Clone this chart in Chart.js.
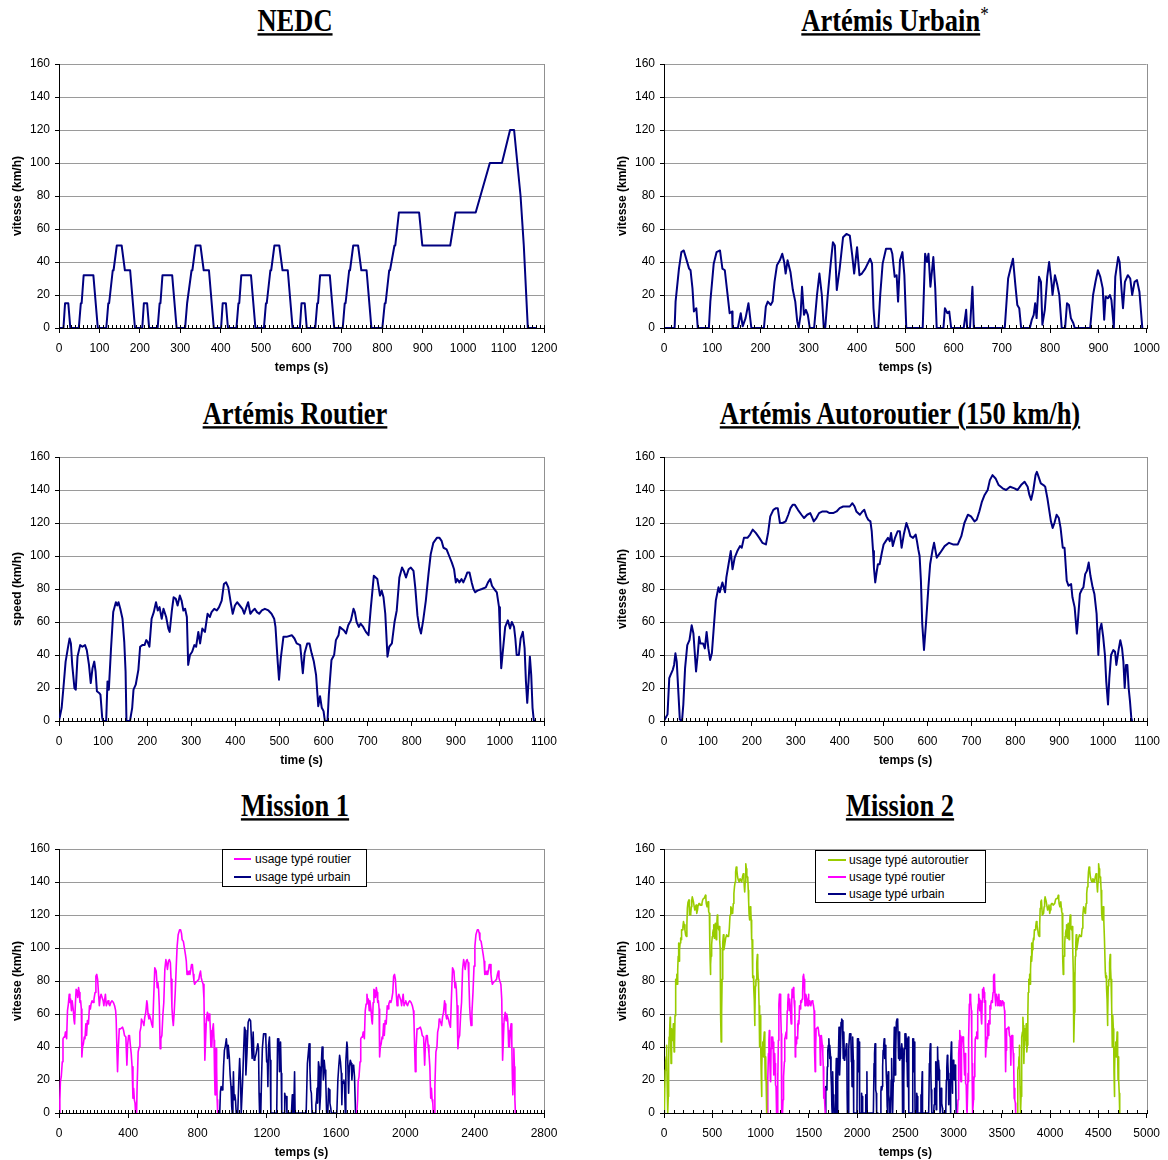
<!DOCTYPE html>
<html>
<head>
<meta charset="utf-8">
<script src="https://cdn.jsdelivr.net/npm/chart.js@4.4.0/dist/chart.umd.min.js"></script>
<style>
  body { margin: 0; background: #fff; }
  #page { position: relative; width: 1168px; height: 1160px; overflow: hidden; }
  canvas { position: absolute; }
  .titre {
    position: absolute; width: 500px; text-align: center;
    font: bold 26.5px "Liberation Serif", "Times New Roman", serif;
    line-height: 30px; color: #000;
    transform: scaleY(1.2);
  }
  .titre u { text-decoration-thickness: 2px; text-underline-offset: 2px; }
  .titre sup { font-weight: normal; font-size: 17px; vertical-align: top; position: relative; top: -4px; }
  .legende {
    position: absolute; background: #fff; border: 1px solid #000;
    font: 12px "Liberation Sans", Arial, sans-serif; color: #000;
  }
  .legende div { position: absolute; white-space: nowrap; line-height: 14px; }
  .legende span { position: absolute; height: 2px; }
</style>
</head>
<body>
<div id="page">
  <div class="titre" style="left:45px;top:5px"><u>NEDC</u></div>
  <div class="titre" style="left:645px;top:5px"><u>Artémis Urbain</u><sup>*</sup></div>
  <div class="titre" style="left:45px;top:398px"><u>Artémis Routier</u></div>
  <div class="titre" style="left:650px;top:398px"><u>Artémis Autoroutier (150 km/h)</u></div>
  <div class="titre" style="left:45px;top:790px"><u>Mission 1</u></div>
  <div class="titre" style="left:650px;top:790px"><u>Mission 2</u></div>

  <canvas id="c1" width="584" height="335" style="left:0;top:41px"></canvas>
  <canvas id="c2" width="563" height="335" style="left:605px;top:41px"></canvas>
  <canvas id="c3" width="584" height="335" style="left:0;top:434px"></canvas>
  <canvas id="c4" width="563" height="335" style="left:605px;top:434px"></canvas>
  <canvas id="c5" width="584" height="335" style="left:0;top:826px"></canvas>
  <canvas id="c6" width="563" height="335" style="left:605px;top:826px"></canvas>

  <div class="legende" style="left:222px;top:849px;width:143px;height:36px">
    <span style="left:11px;top:8px;width:17px;background:#ff00ff"></span>
    <div style="left:32px;top:2px">usage typé routier</div>
    <span style="left:11px;top:26px;width:17px;background:#000080"></span>
    <div style="left:32px;top:20px">usage typé urbain</div>
  </div>
  <div class="legende" style="left:815px;top:850px;width:169px;height:51px">
    <span style="left:12px;top:8px;width:18px;background:#99cc00"></span>
    <div style="left:33px;top:2px">usage typé autoroutier</div>
    <span style="left:12px;top:25px;width:18px;background:#ff00ff"></span>
    <div style="left:33px;top:19px">usage typé routier</div>
    <span style="left:12px;top:42px;width:18px;background:#000080"></span>
    <div style="left:33px;top:36px">usage typé urbain</div>
  </div>
</div>

<script>
// [temps (s), vitesse (km/h)]
const nedc = [
  [0,0],[11,0],[15,15],[23,15],[28,0],[49,0],[54,15],[56,15],[61,32],[85,32],[96,0],[117,0],[122,15],[124,15],[133,35],[135,35],[143,50],[155,50],[163,35],[176,35],[188,0],[195,0],
  [206,0],[210,15],[218,15],[223,0],[244,0],[249,15],[251,15],[256,32],[280,32],[291,0],[312,0],[317,15],[319,15],[328,35],[330,35],[338,50],[350,50],[358,35],[371,35],[383,0],[390,0],
  [401,0],[405,15],[413,15],[418,0],[439,0],[444,15],[446,15],[451,32],[475,32],[486,0],[507,0],[512,15],[514,15],[523,35],[525,35],[533,50],[545,50],[553,35],[566,35],[578,0],[585,0],
  [596,0],[600,15],[608,15],[613,0],[634,0],[639,15],[641,15],[646,32],[670,32],[681,0],[702,0],[707,15],[709,15],[718,35],[720,35],[728,50],[740,50],[748,35],[761,35],[773,0],[780,0],
  [800,0],[806,15],[808,15],[817,35],[819,35],[830,50],[832,50],[841,70],[891,70],[899,50],[968,50],[981,70],[1031,70],[1066,100],[1096,100],[1116,120],[1126,120],[1142,80],[1150,50],[1160,0],[1180,0]
];

const urbain = [
  [0,0],[22,0],[24,16],[31,36],[36,46],[41,47],[47,41],[52,36],[55,35],[59,24],[62,10],[67,12],[70,0],
  [93,0],[96,16],[103,39],[109,46],[116,47],[121,36],[126,35],[131,22],[136,9],[141,10],[142,0],
  [153,0],[159,9],[163,1],[169,6],[175,15],[181,0],
  [207,0],[211,13],[215,16],[221,14],[225,16],[229,28],[234,38],[240,41],[245,45],[249,40],[252,33],[256,41],[262,34],[267,23],[272,16],[276,4],[279,0],[283,8],[286,25],[290,8],[294,11],[298,8],[302,0],
  [311,0],[317,20],[322,33],[327,20],[331,0],
  [334,0],[339,19],[345,38],[350,52],[354,50],[358,23],[364,36],[371,55],[378,57],[385,56],[390,44],[394,33],[400,49],[405,32],[410,33],[417,36],[427,42],[431,39],[434,12],[437,0],
  [444,0],[448,20],[453,39],[460,48],[470,48],[473,45],[478,31],[482,32],[485,16],[489,41],[494,46],[498,32],[502,0],
  [536,0],[541,45],[545,40],[548,45],[552,25],[558,43],[562,24],[565,0],
  [579,0],[582,12],[587,9],[591,10],[595,0],
  [621,0],[626,11],[628,0],[634,0],[639,25],[642,0],
  [706,0],[713,30],[718,36],[723,42],[728,26],[732,14],[736,12],[740,0],
  [758,0],[762,5],[766,8],[769,15],[772,6],[777,31],[781,28],[784,2],[789,11],[794,31],[798,40],[803,27],[805,20],[810,32],[815,26],[819,20],[824,0],
  [831,0],[835,15],[839,14],[843,6],[848,3],[851,0],
  [883,0],[889,20],[894,28],[899,35],[904,31],[909,24],[912,5],[915,19],[920,18],[924,20],[927,17],[932,0],[935,31],[941,43],[944,40],[948,23],[951,12],[955,28],[961,32],[966,30],[970,20],[975,28],[980,29],[985,22],[991,0],[993,0]
];

const routier = [
  [0,0],[2,0],[6,8],[10,20],[15,36],[20,44],[24,50],[27,47],[30,34],[35,20],[38,19],[42,39],[48,46],[53,45],[59,46],[63,43],[68,34],[72,23],[76,32],[80,36],[83,30],[86,18],[91,17],[94,16],[98,2],[100,0],
  [107,0],[110,24],[113,19],[118,44],[123,66],[129,72],[132,70],[135,72],[139,68],[144,62],[148,48],[151,30],[153,0],
  [161,0],[166,8],[169,19],[174,22],[180,31],[184,45],[189,46],[194,46],[198,49],[201,48],[205,45],[210,62],[215,66],[220,72],[224,67],[228,69],[233,62],[237,68],[243,63],[248,56],[251,54],
  [256,67],[260,75],[265,74],[269,70],[274,76],[278,73],[282,67],[286,68],[290,63],[293,34],[297,40],[302,42],[307,46],[311,45],[316,54],[320,47],[325,56],[331,54],[337,65],[342,63],[346,66],
  [352,68],[358,67],[363,69],[369,73],[374,83],[379,84],[384,81],[390,71],[394,65],[399,70],[404,72],[410,70],[416,68],[420,65],[425,69],[429,72],[434,65],[440,67],[444,68],[449,66],[454,65],
  [460,67],[467,68],[475,67],[482,65],[488,62],[491,57],[496,36],[499,25],[503,38],[509,51],[516,51],[528,52],[534,50],[539,47],[547,46],[553,29],[557,41],[563,47],[568,47],[573,41],[578,36],
  [583,28],[588,9],[592,15],[596,8],[600,6],[603,0],[609,0],[612,16],[618,37],[624,40],[628,49],[634,52],[637,57],[641,56],[646,55],[651,53],[656,58],[662,61],[668,68],[671,66],[675,60],
  [680,57],[684,59],[690,57],[696,54],[702,52],[707,68],[714,88],[722,86],[728,76],[732,79],[736,75],[740,65],[745,39],[749,45],[755,47],[761,60],[766,67],[772,87],[778,93],[782,91],[787,87],
  [793,92],[798,93],[804,91],[808,81],[813,64],[817,57],[821,53],[826,61],[832,73],[838,89],[843,101],[849,108],[857,111],[863,111],[868,109],[872,105],[879,104],[885,100],[891,96],[896,92],
  [900,84],[903,86],[908,84],[913,86],[917,84],[922,87],[926,90],[931,90],[936,84],[940,80],[944,78],[949,79],[959,80],[968,81],[973,84],[978,86],[982,82],[987,80],[993,78],[998,69],
  [1000,54],[1003,32],[1008,46],[1012,57],[1018,61],[1023,56],[1027,60],[1032,57],[1035,50],[1038,40],[1043,40],[1047,50],[1052,54],[1056,44],[1059,24],[1062,11],[1065,24],[1068,39],[1071,28],[1074,8],[1077,0],[1082,0]
];

const autoroutier = [
  [0,0],[2,0],[8,4],[12,26],[15,28],[20,31],[23,34],[26,41],[29,36],[33,16],[36,1],[41,0],[44,10],[48,32],[53,46],[58,49],[63,58],[67,53],[73,30],[77,41],[80,51],[83,47],[89,47],[93,44],
  [97,54],[101,44],[105,37],[109,41],[114,59],[118,73],[124,81],[127,78],[133,84],[139,78],[142,87],[147,95],[152,103],[156,92],[161,99],[167,103],[173,106],[177,105],[182,111],[190,111],
  [196,113],[202,116],[209,114],[217,111],[224,108],[232,107],[237,114],[242,124],[249,128],[255,129],[259,129],[264,120],[270,120],[277,121],[283,125],[288,129],[293,131],[298,131],
  [305,128],[313,125],[319,123],[326,125],[333,126],[338,123],[341,121],[347,123],[353,126],[361,127],[370,127],[377,126],[385,126],[393,127],[400,129],[408,130],[415,130],[423,130],
  [429,132],[434,130],[438,127],[446,125],[452,127],[456,128],[461,124],[465,122],[470,121],[473,115],[476,103],[478,93],[481,84],[484,90],[487,95],[491,95],[496,102],[500,107],
  [505,109],[510,111],[514,109],[517,114],[521,106],[526,111],[532,115],[537,115],[541,105],[546,113],[552,120],[557,116],[561,112],[567,111],[573,113],[576,109],[579,104],[582,100],
  [585,85],[588,59],[592,43],[597,61],[602,81],[606,95],[611,103],[615,108],[621,99],[629,102],[639,106],[649,108],[658,107],[669,107],[677,112],[684,120],[692,125],[699,124],
  [707,121],[712,122],[718,127],[724,133],[730,137],[737,140],[742,146],[748,149],[755,147],[762,143],[771,141],[779,140],[788,142],[798,141],[805,140],[813,143],[821,145],[828,142],
  [832,137],[836,134],[841,140],[846,149],[849,151],[853,148],[858,144],[864,143],[868,142],[873,135],[877,128],[881,121],[885,117],[889,120],[894,125],[899,123],[903,117],[908,105],
  [912,105],[917,85],[921,82],[927,83],[930,75],[935,69],[940,53],[942,59],[947,77],[952,80],[955,81],[959,89],[963,91],[967,96],[971,88],[976,81],[980,77],[985,65],[989,40],[992,55],
  [996,59],[1000,51],[1004,40],[1007,24],[1011,10],[1014,26],[1018,40],[1023,43],[1027,42],[1030,34],[1035,43],[1039,49],[1043,44],[1046,36],[1049,20],[1052,34],[1055,34],[1058,20],
  [1061,12],[1064,2],[1066,0],[1068,0]
];

// missions : [cycle, de (s), à (s), décalage (s)]
const mission1Parts = [
  ['routier', 161, 1082, -161],
  ['urbain', 207, 993, 721],
  ['routier', 161, 1082, 1558]
];
const mission2Parts = [
  ['autoroutier', 0, 1068, 0],
  ['routier', 0, 603, 1067],
  ['urbain', 207, 758, 1463],
  ['urbain', 207, 993, 2036],
  ['routier', 0, 603, 3040],
  ['autoroutier', 0, 1068, 3655]
];

const cycles = { urbain: urbain, routier: routier, autoroutier: autoroutier };
const colors = { urbain: '#000080', routier: '#ff00ff', autoroutier: '#99cc00' };

function pts(list) {
  return list.map(p => ({ x: p[0], y: p[1] }));
}

function missionSeries(parts, name) {
  let out = [];
  parts.forEach(part => {
    if (part[0] !== name) return;
    const seg = cycles[name].filter(p => p[0] >= part[1] && p[0] <= part[2])
      .map(p => ({ x: p[0] + part[3], y: p[1] }));
    if (out.length) out.push({ x: seg[0].x - 1, y: null });
    out = out.concat(seg);
  });
  return out;
}

Chart.defaults.font.family = '"Liberation Sans", Arial, sans-serif';
Chart.defaults.color = '#000';

// petits traits le long de l'axe des x + cadre gris à droite
const axisMarks = {
  id: 'axisMarks',
  beforeDatasetsDraw(chart) {
    const a = chart.chartArea, ctx = chart.ctx;
    ctx.save();
    ctx.strokeStyle = '#909090';
    ctx.lineWidth = 1;
    ctx.beginPath();
    ctx.moveTo(Math.round(a.right) + 0.5, a.top);
    ctx.lineTo(Math.round(a.right) + 0.5, a.bottom);
    ctx.stroke();
    ctx.restore();
  },
  afterDraw(chart, args, opts) {
    if (!opts.step) return;
    const xs = chart.scales.x, ctx = chart.ctx, y = chart.chartArea.bottom;
    ctx.save();
    ctx.strokeStyle = '#000';
    ctx.lineWidth = 1;
    ctx.beginPath();
    for (let v = xs.min; v <= xs.max + 0.001; v += opts.step) {
      const px = Math.round(xs.getPixelForValue(v)) + 0.5;
      ctx.moveTo(px, y - 3);
      ctx.lineTo(px, y + 1);
    }
    ctx.stroke();
    ctx.restore();
  }
};

function makeChart(id, datasets, xMax, xStep, minorStep, xTitle, yTitle, rightPad) {
  return new Chart(document.getElementById(id), {
    type: 'line',
    data: { datasets: datasets },
    options: {
      responsive: false,
      animation: false,
      layout: { padding: { top: 23, right: rightPad, left: 0, bottom: 0 } },
      plugins: {
        legend: { display: false },
        tooltip: { enabled: false },
        axisMarks: { step: minorStep }
      },
      elements: { point: { radius: 0 }, line: { tension: 0, borderJoinStyle: 'round' } },
      scales: {
        x: {
          type: 'linear', min: 0, max: xMax,
          ticks: { stepSize: xStep, font: { size: 12 }, padding: 8, maxRotation: 0, autoSkip: false,
                   callback: v => String(v) },
          grid: { drawOnChartArea: false, tickLength: 5, tickColor: '#000' },
          border: { color: '#000', width: 1 },
          title: { display: true, text: xTitle, font: { size: 12, weight: 'bold' }, padding: { top: 0, bottom: 1 } },
          afterFit: s => { s.height = 48; }
        },
        y: {
          min: 0, max: 160,
          ticks: { stepSize: 20, font: { size: 12 }, padding: 5, callback: v => String(v) },
          grid: { color: '#9a9a9a', tickLength: 4, tickColor: '#000' },
          border: { color: '#000', width: 1 },
          title: { display: true, text: yTitle, font: { size: 12, weight: 'bold' }, padding: { top: 10, bottom: 0 } },
          afterFit: s => { s.width = 59; }
        }
      }
    },
    plugins: [axisMarks]
  });
}

function line(data, color, width) {
  return { data: data, borderColor: color, borderWidth: width, fill: false, spanGaps: false };
}

makeChart('c1', [line(pts(nedc), '#000080', 2)], 1200, 100, 10, 'temps (s)', 'vitesse (km/h)', 40);
makeChart('c2', [line(pts(urbain), '#000080', 2)], 1000, 100, 100 / 7, 'temps (s)', 'vitesse (km/h)', 20);
makeChart('c3', [line(pts(routier), '#000080', 2)], 1100, 100, 10, 'time (s)', 'speed (km/h)', 40);
makeChart('c4', [line(pts(autoroutier), '#000080', 2)], 1100, 100, 10, 'temps (s)', 'vitesse (km/h)', 20);
makeChart('c5', [
  line(missionSeries(mission1Parts, 'routier'), colors.routier, 1.6),
  line(missionSeries(mission1Parts, 'urbain'), colors.urbain, 1.6)
], 2800, 400, 20, 'temps (s)', 'vitesse (km/h)', 40);
makeChart('c6', [
  line(missionSeries(mission2Parts, 'autoroutier'), colors.autoroutier, 1.6),
  line(missionSeries(mission2Parts, 'routier'), colors.routier, 1.6),
  line(missionSeries(mission2Parts, 'urbain'), colors.urbain, 1.6)
], 5000, 500, 100, 'temps (s)', 'vitesse (km/h)', 20);
</script>
</body>
</html>
